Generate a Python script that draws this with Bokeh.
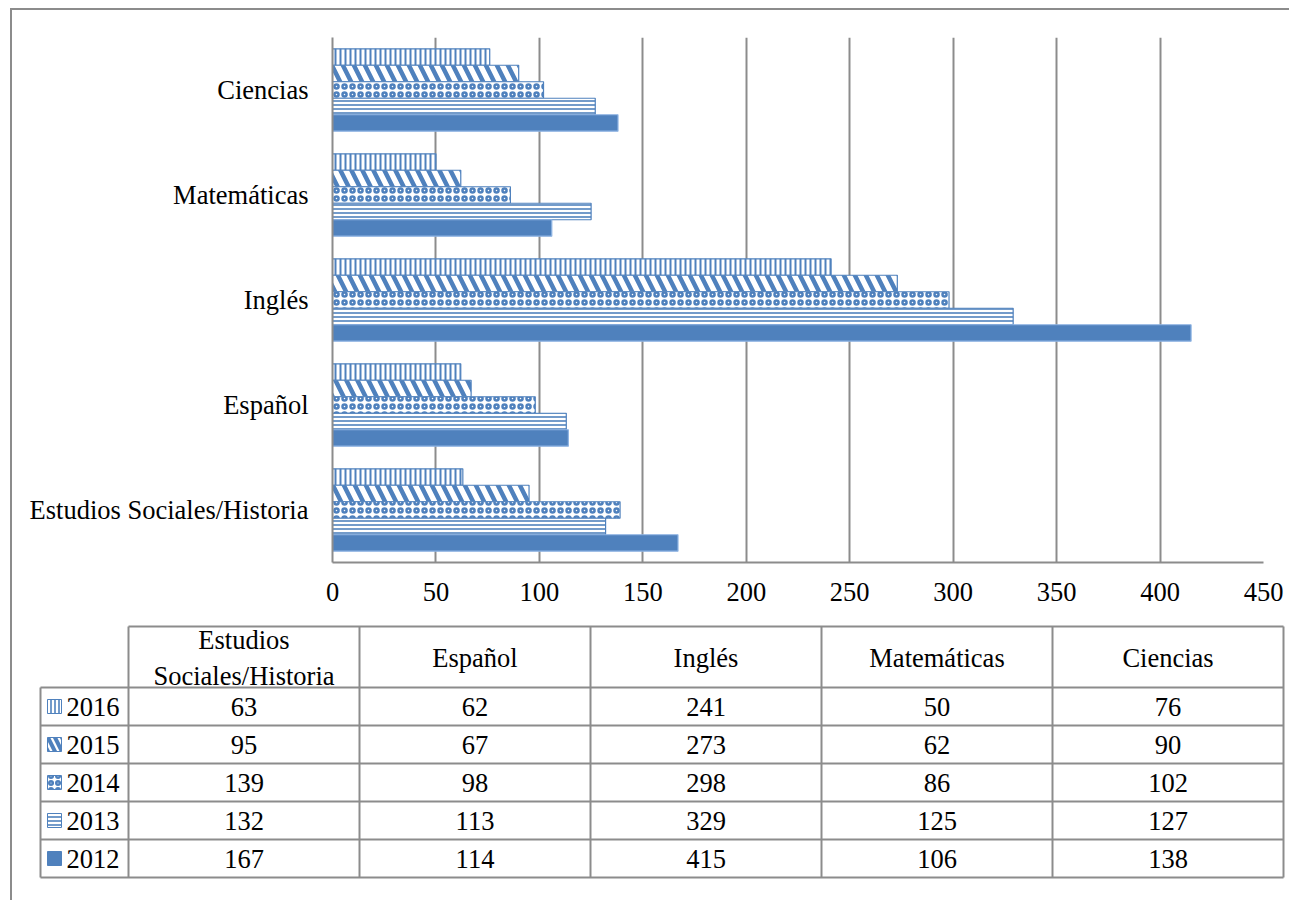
from bokeh.plotting import figure
from bokeh.models import ColumnDataSource, FactorRange, Range1d, FixedTicker
from bokeh.transform import dodge
from bokeh.embed import file_html
from bokeh.resources import INLINE
from bokeh.core.properties import value

# ---------------- data ----------------
categories = ["Estudios Sociales/Historia", "Español", "Inglés", "Matemáticas", "Ciencias"]
header_labels = ["Estudios\nSociales/Historia", "Español", "Inglés", "Matemáticas", "Ciencias"]
years = ["2016", "2015", "2014", "2013", "2012"]
v2016 = [63, 62, 241, 50, 76]
v2015 = [95, 67, 273, 62, 90]
v2014 = [139, 98, 298, 86, 102]
v2013 = [132, 113, 329, 125, 127]
v2012 = [167, 114, 415, 106, 138]
x_ticks = [0, 50, 100, 150, 200, 250, 300, 350, 400, 450]

series = {"2016": v2016, "2015": v2015, "2014": v2014, "2013": v2013, "2012": v2012}

BLUE = "#4F81BD"
GRID = "#8C8C8C"
FONT = "Liberation Serif"
FS = "26.5px"

styles = {
    "2016": dict(fill_color="white", hatch_pattern="|", hatch_scale=5, hatch_weight=2),
    "2015": dict(fill_color="white", hatch_pattern="\\", hatch_scale=22, hatch_weight=4.5),
    "2014": dict(fill_color="white", hatch_pattern="o", hatch_scale=8, hatch_weight=2.5),
    "2013": dict(fill_color="white", hatch_pattern="-", hatch_scale=4, hatch_weight=1.6),
    "2012": dict(fill_color=BLUE),
}
legend_styles = {
    "2016": dict(fill_color="white", hatch_pattern="|", hatch_scale=4, hatch_weight=1.6),
    "2015": dict(fill_color="white", hatch_pattern="\\", hatch_scale=14, hatch_weight=4),
    "2014": dict(fill_color="white", hatch_pattern="o", hatch_scale=7, hatch_weight=2.5),
    "2013": dict(fill_color="white", hatch_pattern="-", hatch_scale=4, hatch_weight=1.6),
    "2012": dict(fill_color=BLUE),
}

src = ColumnDataSource(dict(cat=categories, **{"y" + y: series[y] for y in years}))

W = 1279
# ---------------- chart ----------------
p1 = figure(width=W, height=610, y_range=FactorRange(factors=categories),
            x_range=Range1d(0, 450), output_backend="svg", toolbar_location=None,
            min_border_left=320, min_border_right=W - 320 - 931, min_border_top=27,
            min_border_bottom=58,
            styles={"margin-left": "10px", "margin-top": "8px",
                    "border-top": "2px solid #8C8C8C", "border-left": "2px solid #8C8C8C"})
p1.outline_line_color = None
p1.background_fill_color = "white"
p1.border_fill_color = "white"

bar_h = 0.157
for k, y in enumerate(years):
    off = (2 - k) * bar_h
    st = styles[y]
    lc = "#8EB4E3" if y == "2012" else BLUE
    p1.hbar(y=dodge("cat", off, range=p1.y_range), left=0, right="y" + y, height=bar_h,
            source=src, line_color=lc, line_width=1.2, hatch_color=BLUE, **st)

p1.xaxis.ticker = FixedTicker(ticks=x_ticks)
p1.xgrid.ticker = FixedTicker(ticks=x_ticks)
p1.xgrid.grid_line_color = GRID
p1.xgrid.grid_line_width = 2
p1.ygrid.grid_line_color = None
for ax in (p1.xaxis, p1.yaxis):
    ax.axis_line_color = GRID
    ax.axis_line_width = 2
    ax.major_tick_line_color = None
    ax.minor_tick_line_color = None
    ax.major_tick_in = 0
    ax.major_tick_out = 0
    ax.major_label_text_font = FONT
    ax.major_label_text_font_size = FS
    ax.major_label_text_color = "black"
p1.xaxis.major_label_standoff = 20
p1.yaxis.major_label_standoff = 24

# ---------------- table ----------------
unit_w = 231.0
col0_px = 116.0
row_h = 38.0
row0_px = 69.0
h2 = 282
p2 = figure(width=W, height=h2, output_backend="svg", toolbar_location=None,
            x_range=Range1d(-col0_px / unit_w, (W - col0_px) / unit_w),
            y_range=Range1d((h2 - row0_px) / row_h, -row0_px / row_h),
            x_axis_type=None, y_axis_type=None, min_border=0,
            styles={"margin-left": "10px", "border-left": "2px solid #8C8C8C"})
p2.outline_line_color = None
p2.grid.grid_line_color = None
p2.background_fill_color = "white"
p2.border_fill_color = "white"

ncol = len(categories)
nrow = len(years)
header_top = (8 - row0_px) / row_h
legend_left = (28 - col0_px) / unit_w

x0s, y0s, x1s, y1s = [], [], [], []
x0s.append(0); x1s.append(ncol); y0s.append(header_top); y1s.append(header_top)
for r in range(nrow + 1):
    x0s.append(legend_left); x1s.append(ncol); y0s.append(r); y1s.append(r)
x0s.append(legend_left); x1s.append(legend_left); y0s.append(0); y1s.append(nrow)
for c in range(ncol + 1):
    x0s.append(c); x1s.append(c); y0s.append(header_top); y1s.append(nrow)
p2.segment(x0=x0s, y0=y0s, x1=x1s, y1=y1s, line_color=GRID, line_width=2)

p2.text(x=[c + 0.5 for c in range(ncol)], y=[header_top / 2 + 0.03] * ncol, text=header_labels,
        text_font=value(FONT), text_font_size=FS, text_align="center",
        text_baseline="middle", text_color="black", text_line_height=1.2)

tx, ty, tt = [], [], []
for r, y in enumerate(years):
    for c in range(ncol):
        tx.append(c + 0.5); ty.append(r + 0.5); tt.append(str(series[y][c]))
p2.text(x=tx, y=ty, text=tt, text_font=value(FONT), text_font_size=FS,
        text_align="center", text_baseline="middle", text_color="black")

sw_x = (42 - col0_px) / unit_w
lab_x = (54 - col0_px) / unit_w
for r, y in enumerate(years):
    st = legend_styles[y]
    p2.rect(x=[sw_x], y=[r + 0.5], width=14, height=14, width_units="screen",
            height_units="screen", line_color=BLUE, line_width=1, hatch_color=BLUE, **st)
p2.text(x=[lab_x] * nrow, y=[r + 0.5 for r in range(nrow)], text=years,
        text_font=value(FONT), text_font_size=FS, text_align="left",
        text_baseline="middle", text_color="black")

open("out.html", "w").write(file_html([p1, p2], INLINE))
